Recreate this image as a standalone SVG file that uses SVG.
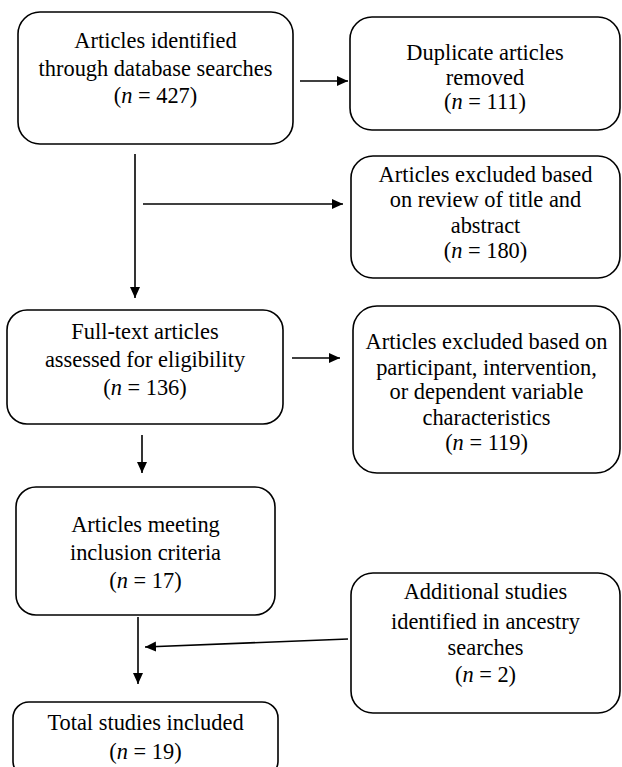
<svg xmlns="http://www.w3.org/2000/svg" width="622" height="767" viewBox="0 0 622 767">
<style>
.box{fill:#fff;stroke:#000;stroke-width:1.6}
.t{font-family:"Liberation Serif","Times New Roman",serif;font-size:22.4px;fill:#000;text-anchor:middle}
.i{font-style:italic}
.c{stroke:#000;stroke-width:1.6;fill:none;marker-end:url(#ah)}
</style>
<defs>
<marker id="ah" markerUnits="userSpaceOnUse" markerWidth="12" markerHeight="12" viewBox="0 0 12 12" refX="11" refY="6" orient="auto">
<path d="M0,1 L11,6 L0,11 Z" fill="#000"/>
</marker>
</defs>
<rect width="622" height="767" fill="#fff"/>
<g id="connectors">
<line class="c" x1="300" y1="81" x2="348" y2="81"/>
<line class="c" x1="135" y1="154" x2="135" y2="298"/>
<line class="c" x1="143" y1="204" x2="343" y2="204"/>
<line class="c" x1="292" y1="358" x2="340" y2="358"/>
<line class="c" x1="142" y1="435" x2="142" y2="473"/>
<line class="c" x1="138" y1="617" x2="138" y2="684"/>
<line class="c" x1="348" y1="639" x2="145" y2="647"/>
</g>
<g id="n1">
<rect class="box" x="18" y="12" width="275" height="132" rx="22"/>
<text class="t" x="155.5" y="48">Articles identified</text>
<text class="t" x="155.5" y="76">through database searches</text>
<text class="t" x="155.5" y="103">(<tspan class="i">n</tspan> = 427)</text>
</g>
<g id="n2">
<rect class="box" x="350" y="17" width="270" height="113" rx="22"/>
<text class="t" x="485" y="60">Duplicate articles</text>
<text class="t" x="485" y="85">removed</text>
<text class="t" x="485" y="109">(<tspan class="i">n</tspan> = 111)</text>
</g>
<g id="n3">
<rect class="box" x="351" y="156" width="269" height="122" rx="22"/>
<text class="t" x="485.5" y="182">Articles excluded based</text>
<text class="t" x="485.5" y="207">on review of title and</text>
<text class="t" x="485.5" y="233">abstract</text>
<text class="t" x="485.5" y="258">(<tspan class="i">n</tspan> = 180)</text>
</g>
<g id="n4">
<rect class="box" x="7" y="310" width="276" height="114" rx="20"/>
<text class="t" x="145" y="339">Full-text articles</text>
<text class="t" x="145" y="367">assessed for eligibility</text>
<text class="t" x="145" y="395">(<tspan class="i">n</tspan> = 136)</text>
</g>
<g id="n5">
<rect class="box" x="353" y="306" width="267" height="167" rx="24"/>
<text class="t" x="486.5" y="349">Articles excluded based on</text>
<text class="t" x="486.5" y="375">participant, intervention,</text>
<text class="t" x="486.5" y="399">or dependent variable</text>
<text class="t" x="486.5" y="425">characteristics</text>
<text class="t" x="486.5" y="450">(<tspan class="i">n</tspan> = 119)</text>
</g>
<g id="n6">
<rect class="box" x="16" y="487" width="259" height="128" rx="20"/>
<text class="t" x="145.5" y="532">Articles meeting</text>
<text class="t" x="145.5" y="560">inclusion criteria</text>
<text class="t" x="145.5" y="588">(<tspan class="i">n</tspan> = 17)</text>
</g>
<g id="n7">
<rect class="box" x="351" y="573" width="269" height="140" rx="22"/>
<text class="t" x="485.5" y="599">Additional studies</text>
<text class="t" x="485.5" y="629">identified in ancestry</text>
<text class="t" x="485.5" y="655">searches</text>
<text class="t" x="485.5" y="682">(<tspan class="i">n</tspan> = 2)</text>
</g>
<g id="n8">
<rect class="box" x="13" y="702" width="265" height="75" rx="16"/>
<text class="t" x="145.5" y="730">Total studies included</text>
<text class="t" x="145.5" y="759">(<tspan class="i">n</tspan> = 19)</text>
</g>
</svg>
